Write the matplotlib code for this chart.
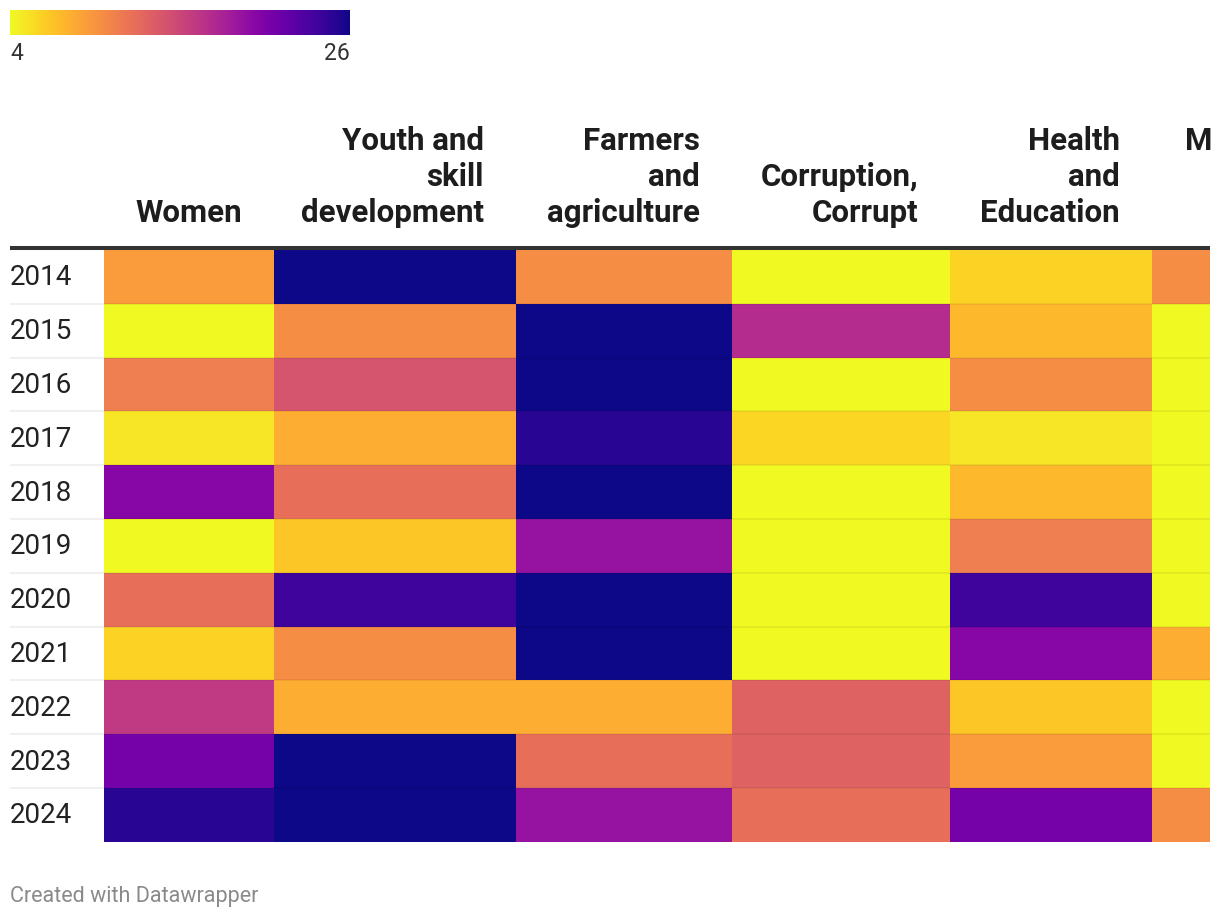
import numpy as np
import matplotlib
import matplotlib.pyplot as plt

matplotlib.rcParams['font.family'] = ['Roboto', 'DejaVu Sans']

years = [2014, 2015, 2016, 2017, 2018, 2019, 2020, 2021, 2022, 2023, 2024]
columns = ['Women', 'Youth and\nskill\ndevelopment', 'Farmers\nand\nagriculture',
           'Corruption,\nCorrupt', 'Health\nand\nEducation', 'M']
women = [9, 4, 11, 5, 20, 4, 12, 6, 16, 21, 25]
youth = [26, 10, 14, 8, 12, 6.6, 24, 10, 8, 26, 26]
farmers = [10, 26, 26, 25, 26, 19, 26, 26, 8, 12, 19]
corruption = [4, 17, 4, 5.8, 4, 4, 4, 4, 13, 13, 12]
health = [6, 7.4, 10, 5, 7.4, 11, 24, 20, 6.6, 9, 21]
m_col = [10, 4, 4, 4, 4, 4, 4, 8, 4, 4, 10]
vmin, vmax = 4, 26

# layout in pixels
col_widths = [170, 242, 216, 218, 202, 58]
left, top, row_h = 104, 250, 53.8

values = np.array([women, youth, farmers, corruption, health, m_col]).T

fig = plt.figure(figsize=(12.2, 9.18), dpi=100)
ax = fig.add_axes([0, 0, 1, 1])
ax.axis('off')

xe = left + np.concatenate([[0], np.cumsum(col_widths)])
ye = top + np.arange(len(years) + 1) * row_h
ax.pcolormesh(xe, ye, values, cmap='plasma_r', vmin=vmin, vmax=vmax)

# row separators
for y in ye[1:-1]:
    ax.plot([10, 1210], [y, y], color='black', alpha=0.07, lw=1.2, solid_capstyle='butt')
ax.plot([10, 1210], [top - 2, top - 2], color='#333333', lw=2.9, solid_capstyle='butt')

for i, yr in enumerate(years):
    ax.text(10, ye[i] + row_h / 2 + 1, str(yr), fontsize=20, color='#222222',
            ha='left', va='center')

# headers
for j, name in enumerate(columns):
    lines = name.split('\n')
    for k, line in enumerate(reversed(lines)):
        if name == 'M':
            ax.text(1185, 150, line, fontsize=22.5, fontweight='bold', color='#1d1d1d',
                    ha='left', va='baseline')
        else:
            ax.text(xe[j + 1] - 32, 222 - 36 * k, line, fontsize=22.5, fontweight='bold',
                    color='#1d1d1d', ha='right', va='baseline')

# color legend
grad = np.linspace(vmin, vmax, 256).reshape(1, -1)
ax.imshow(grad, cmap='plasma_r', vmin=vmin, vmax=vmax, aspect='auto',
          extent=(10, 350, 35, 10))
ax.text(10, 60, str(vmin), fontsize=16.5, color='#333333', ha='left', va='baseline')
ax.text(350, 60, str(vmax), fontsize=16.5, color='#333333', ha='right', va='baseline')

ax.text(10, 902, 'Created with Datawrapper', fontsize=15.5, color='#8a8a8a',
        ha='left', va='baseline')

ax.set_xlim(0, 1220)
ax.set_ylim(918, 0)

plt.savefig('out.png', dpi=100)
